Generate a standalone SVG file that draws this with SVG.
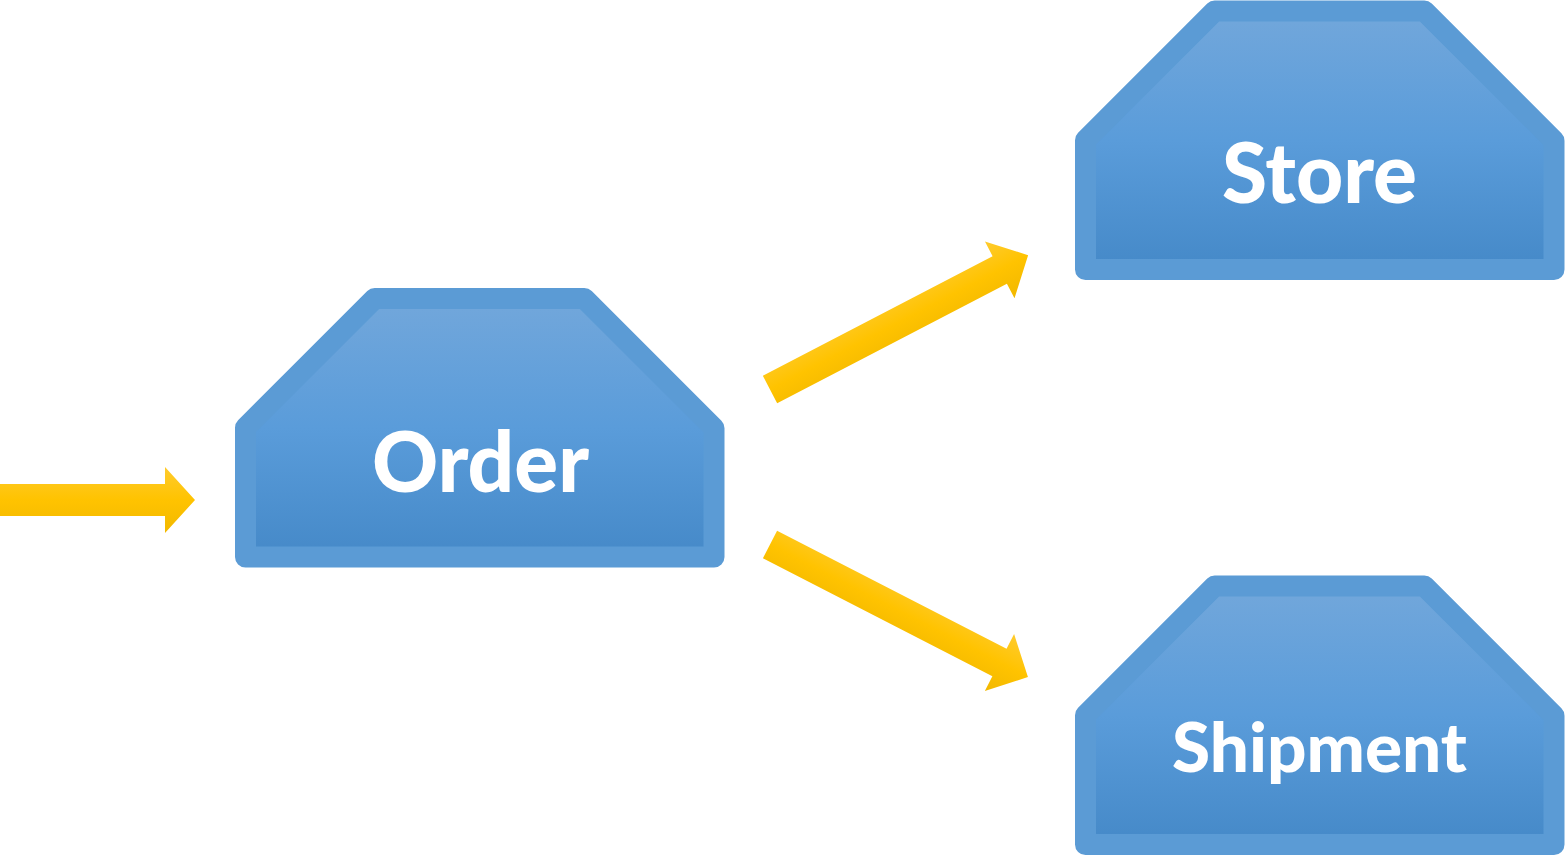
<svg xmlns="http://www.w3.org/2000/svg" width="1565" height="856" viewBox="0 0 1565 856">
  <defs>
    <linearGradient id="boxFill" x1="0" y1="0" x2="0" y2="1">
      <stop offset="0" stop-color="#72A7DB"/>
      <stop offset="0.5" stop-color="#5A9CDA"/>
      <stop offset="1" stop-color="#4589C8"/>
    </linearGradient>
    <linearGradient id="arrowFill" x1="0" y1="0" x2="0" y2="1">
      <stop offset="0" stop-color="#FFCB2E"/>
      <stop offset="0.5" stop-color="#FFC300"/>
      <stop offset="1" stop-color="#F2B800"/>
    </linearGradient>
    <path id="boxShape" d="M245.5,427.7 L374.7,298.5 L584.3,298.5 L714,428.2 L714,557 L245.5,557 Z"/>
  </defs>
  <style>
    .box { fill: url(#boxFill); stroke: #5B9BD5; stroke-width: 21; stroke-linejoin: round; }
    .label { fill: #FFFFFF; font-family: Lato, "Open Sans", "Liberation Sans", sans-serif; font-weight: 900; text-anchor: middle; }
    .arrow { fill: url(#arrowFill); stroke: none; }
  </style>

  <g id="connectors">
    <path class="arrow" d="M0,484 H165 V467 L195,500 L165,533 V516 H0 Z"/>
    <path class="arrow" transform="translate(770,389.5) rotate(-27.5)" d="M0,-15.5 H259 V-32 L291,0 L259,32 V15.5 H0 Z"/>
    <path class="arrow" transform="translate(770,544.5) rotate(27.2)" d="M0,-15.5 H258 V-32 L290,0 L258,32 V15.5 H0 Z"/>
  </g>

  <g id="node-order">
    <use href="#boxShape" class="box"/>
    <text class="label" x="480.5" y="492" font-size="83" textLength="217" lengthAdjust="spacingAndGlyphs">Order</text>
  </g>

  <g id="node-store">
    <use href="#boxShape" class="box" transform="translate(840,-287.5)"/>
    <text class="label" x="1319.5" y="203" font-size="83" textLength="195" lengthAdjust="spacingAndGlyphs">Store</text>
  </g>

  <g id="node-shipment">
    <use href="#boxShape" class="box" transform="translate(840,287.5)"/>
    <text class="label" x="1319.5" y="772" font-size="69" textLength="295" lengthAdjust="spacingAndGlyphs">Shipment</text>
  </g>
</svg>
